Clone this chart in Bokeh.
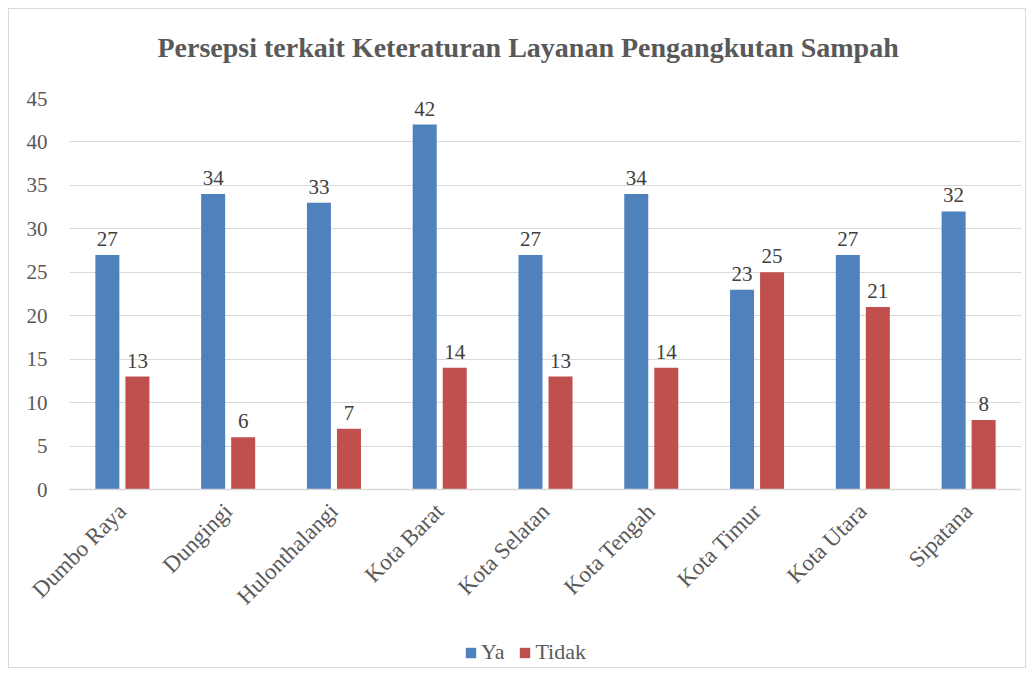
from bokeh.plotting import figure
from bokeh.layouts import column
from bokeh.models import (ColumnDataSource, FactorRange, Range1d, Legend, LegendItem,
                          FixedTicker, LabelSet, Title)
from bokeh.transform import dodge
from bokeh.embed import file_html
from bokeh.resources import INLINE
import math

categories = ["Dumbo Raya", "Dungingi", "Hulonthalangi", "Kota Barat", "Kota Selatan",
              "Kota Tengah", "Kota Timur", "Kota Utara", "Sipatana"]
ya = [27, 34, 33, 42, 27, 34, 23, 27, 32]
tidak = [13, 6, 7, 14, 13, 14, 25, 21, 8]
y_ticks = [0, 5, 10, 15, 20, 25, 30, 35, 40, 45]
title_text = "Persepsi terkait Keteraturan Layanan Pengangkutan Sampah"

BLUE = "#4f81bd"
RED = "#c0504d"
FONT = "Liberation Serif"

src = ColumnDataSource(dict(cat=categories, ya=ya, tidak=tidak,
                            ya_t=[str(v) for v in ya], tidak_t=[str(v) for v in tidak]))

p = figure(x_range=FactorRange(*categories), y_range=Range1d(0, 45),
           frame_width=952, frame_height=391, output_backend="svg", toolbar_location=None,
           min_border_left=60, min_border_right=4, min_border_top=88, min_border_bottom=150)
p.outline_line_color = None
p.background_fill_color = "white"

p.title.text = title_text
p.title.align = "left"
p.title.offset = 88
p.title.text_font = FONT
p.title.text_font_size = "28px"
p.title.text_font_style = "bold"
p.title.text_color = "#595959"
p.title.standoff = 40
# blank spacer between the title and the plot area
p.add_layout(Title(text=" ", text_font_size="1px", standoff=13), "above")

r_ya = p.vbar(x=dodge("cat", -0.142, range=p.x_range), top="ya", width=0.227,
              source=src, fill_color=BLUE, line_color=None)
r_ti = p.vbar(x=dodge("cat", 0.142, range=p.x_range), top="tidak", width=0.227,
              source=src, fill_color=RED, line_color=None)

for col, off in (("ya", -0.142), ("tidak", 0.142)):
    p.add_layout(LabelSet(x=dodge("cat", off, range=p.x_range), y=col, text=col + "_t",
                          source=src, y_offset=9, text_align="center",
                          text_baseline="bottom", text_font=FONT, text_font_size="21px",
                          text_color="#404040"))

p.yaxis.ticker = FixedTicker(ticks=y_ticks)
p.yaxis.axis_line_color = None
p.yaxis.major_tick_line_color = None
p.yaxis.minor_tick_line_color = None
p.yaxis.major_tick_out = 0
p.yaxis.major_tick_in = 0
p.yaxis.major_label_text_font = FONT
p.yaxis.major_label_text_font_size = "21px"
p.yaxis.major_label_text_color = "#595959"
p.yaxis.major_label_standoff = 22

p.xaxis.axis_line_color = "#d9d9d9"
p.xaxis.axis_line_width = 1.5
p.xaxis.major_tick_line_color = None
p.xaxis.minor_tick_line_color = None
p.xaxis.major_tick_out = 0
p.xaxis.major_tick_in = 0
p.xaxis.axis_label = None
p.xaxis.major_label_orientation = math.pi / 4
p.xaxis.major_label_text_font = FONT
p.xaxis.major_label_text_font_size = "23px"
p.xaxis.major_label_text_color = "#595959"
p.xaxis.major_label_standoff = 18

p.xgrid.grid_line_color = None
p.ygrid.grid_line_color = "#d9d9d9"
p.ygrid.grid_line_width = 1.2

# legend strip below the chart (its zero-width bars only serve the legend swatches)
lf = figure(x_range=p.x_range, y_range=Range1d(-100, -99), width=1016, height=28,
            output_backend="svg", toolbar_location=None,
            x_axis_location=None, y_axis_location=None,
            min_border_left=0, min_border_right=0, min_border_top=0, min_border_bottom=0)
lf.outline_line_color = None
lf.grid.visible = False
lf_ya = lf.vbar(x=dodge("cat", -0.142, range=lf.x_range), top="ya", width=0,
                source=src, fill_color=BLUE, line_color=None)
lf_ti = lf.vbar(x=dodge("cat", 0.142, range=lf.x_range), top="tidak", width=0,
                source=src, fill_color=RED, line_color=None)
legend = Legend(items=[LegendItem(label="Ya", renderers=[lf_ya]),
                       LegendItem(label="Tidak", renderers=[lf_ti])],
                orientation="horizontal", location=(395, 2),
                glyph_width=13, glyph_height=13, label_text_font=FONT,
                label_text_font_size="22px", label_text_color="#595959",
                padding=0, margin=0, spacing=14, label_standoff=4, label_height=24,
                border_line_color=None, background_fill_alpha=0)
lf.add_layout(legend)

layout = column(p, lf, spacing=0,
                styles={"border": "1px solid #d9d9d9", "margin-left": "8px", "margin-top": "8px"})

open("out.html", "w").write(file_html(layout, INLINE))
